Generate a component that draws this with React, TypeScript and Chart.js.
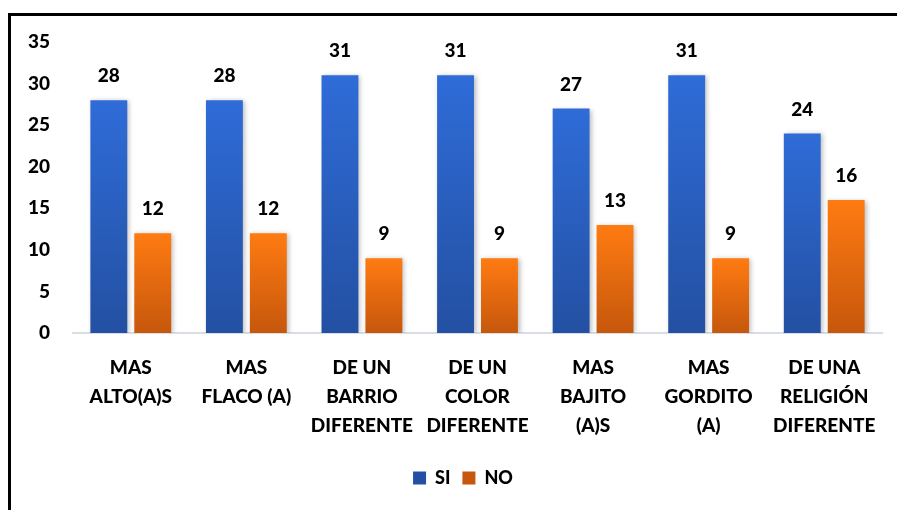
import React, { useEffect, useRef } from "react";
import { Chart, registerables } from "chart.js";

Chart.register(...registerables);

const categories: string[][] = [
  ["MAS", "ALTO(A)S"],
  ["MAS", "FLACO (A)"],
  ["DE UN", "BARRIO", "DIFERENTE"],
  ["DE UN", "COLOR", "DIFERENTE"],
  ["MAS", "BAJITO", "(A)S"],
  ["MAS", "GORDITO", "(A)"],
  ["DE UNA", "RELIGIÓN", "DIFERENTE"],
];
const siValues = [28, 28, 31, 31, 27, 31, 24];
const noValues = [12, 12, 9, 9, 13, 9, 16];
const seriesNames = ["SI", "NO"];

const FONT = "Lato, 'Open Sans', sans-serif";
const WEIGHT = 900;

function makeFill(top: string, bottom: string, flat: string) {
  return (ctx: any) => {
    if (ctx.type !== "data") return flat;
    const chart = ctx.chart;
    const y = chart.scales.y;
    if (!y) return flat;
    const v = ctx.parsed ? ctx.parsed.y : ctx.raw;
    const yTop = y.getPixelForValue(v);
    const yBot = y.getPixelForValue(0);
    if (!isFinite(yTop) || !isFinite(yBot) || yTop === yBot) return flat;
    const g = chart.ctx.createLinearGradient(0, yTop, 0, yBot);
    g.addColorStop(0, top);
    g.addColorStop(1, bottom);
    return g;
  };
}

const shadowPlugin = {
  id: "barShadow",
  beforeDatasetDraw(chart: any) {
    const c = chart.ctx;
    c.save();
    c.shadowColor = "rgba(0,0,0,0.28)";
    c.shadowBlur = 5;
    c.shadowOffsetX = 2;
    c.shadowOffsetY = 1;
  },
  afterDatasetDraw(chart: any) {
    chart.ctx.restore();
  },
};

const legendShiftPlugin = {
  id: "legendShift",
  afterLayout(chart: any) {
    const lg = chart.legend;
    if (lg) {
      lg.left += 22;
      lg.right += 22;
    }
  },
};

const valueLabelPlugin = {
  id: "valueLabels",
  afterDatasetsDraw(chart: any) {
    const c = chart.ctx;
    c.save();
    c.font = `${WEIGHT} 19px ${FONT}`;
    c.fillStyle = "#000";
    c.textAlign = "center";
    c.textBaseline = "middle";
    chart.data.datasets.forEach((ds: any, i: number) => {
      const meta = chart.getDatasetMeta(i);
      meta.data.forEach((bar: any, j: number) => {
        c.fillText(String(ds.data[j]), bar.x, bar.y - 24);
      });
    });
    c.restore();
  },
};

export default function App() {
  const ref = useRef<HTMLCanvasElement>(null);
  useEffect(() => {
    if (!ref.current) return;
    const chart = new Chart(ref.current, {
      type: "bar",
      data: {
        labels: categories,
        datasets: [
          {
            label: seriesNames[0],
            data: siValues,
            backgroundColor: makeFill("#2f6cd8", "#2350a2", "#2b5fc3"),
            categoryPercentage: 0.76,
            barPercentage: 0.84,
          },
          {
            label: seriesNames[1],
            data: noValues,
            backgroundColor: makeFill("#ff7b12", "#c6570c", "#e8690f"),
            categoryPercentage: 0.76,
            barPercentage: 0.84,
          },
        ],
      },
      plugins: [shadowPlugin, valueLabelPlugin, legendShiftPlugin],
      options: {
        animation: false,
        responsive: false,
        maintainAspectRatio: false,
        layout: { padding: { left: 0, top: 42, right: 15, bottom: 13 } },
        plugins: {
          tooltip: { enabled: false },
          legend: {
            position: "bottom",
            labels: {
              boxWidth: 13,
              boxHeight: 13,
              padding: 12,
              color: "#000",
              font: { family: FONT, size: 18, weight: WEIGHT },
            },
          },
        },
        scales: {
          x: {
            grid: { display: false, drawTicks: false },
            border: { display: true, color: "#d9dde6", width: 2 },
            ticks: {
              color: "#000",
              font: { family: FONT, size: 19, weight: WEIGHT, lineHeight: 1.53 },
              maxRotation: 0,
              autoSkip: false,
              padding: 20,
            },
            afterFit: (s: any) => {
              s.height = 124;
            },
          },
          y: {
            min: 0,
            max: 35,
            grid: { display: false, drawTicks: false },
            border: { display: false },
            ticks: {
              stepSize: 5,
              color: "#000",
              padding: 23,
              font: { family: FONT, size: 19, weight: WEIGHT },
            },
            afterFit: (s: any) => {
              s.width = 73;
            },
          },
        },
      },
    });
    return () => chart.destroy();
  }, []);
  return (
    <div
      style={{
        position: "absolute",
        left: 0,
        top: 0,
        width: 897,
        height: 510,
        overflow: "hidden",
        background: "#fff",
      }}
    >
      <canvas ref={ref} width={897} height={510} style={{ display: "block" }} />
      <div
        style={{
          position: "absolute",
          left: 8,
          top: 13,
          width: 1200,
          height: 1200,
          borderLeft: "3px solid #000",
          borderTop: "3px solid #000",
          pointerEvents: "none",
        }}
      />
    </div>
  );
}
